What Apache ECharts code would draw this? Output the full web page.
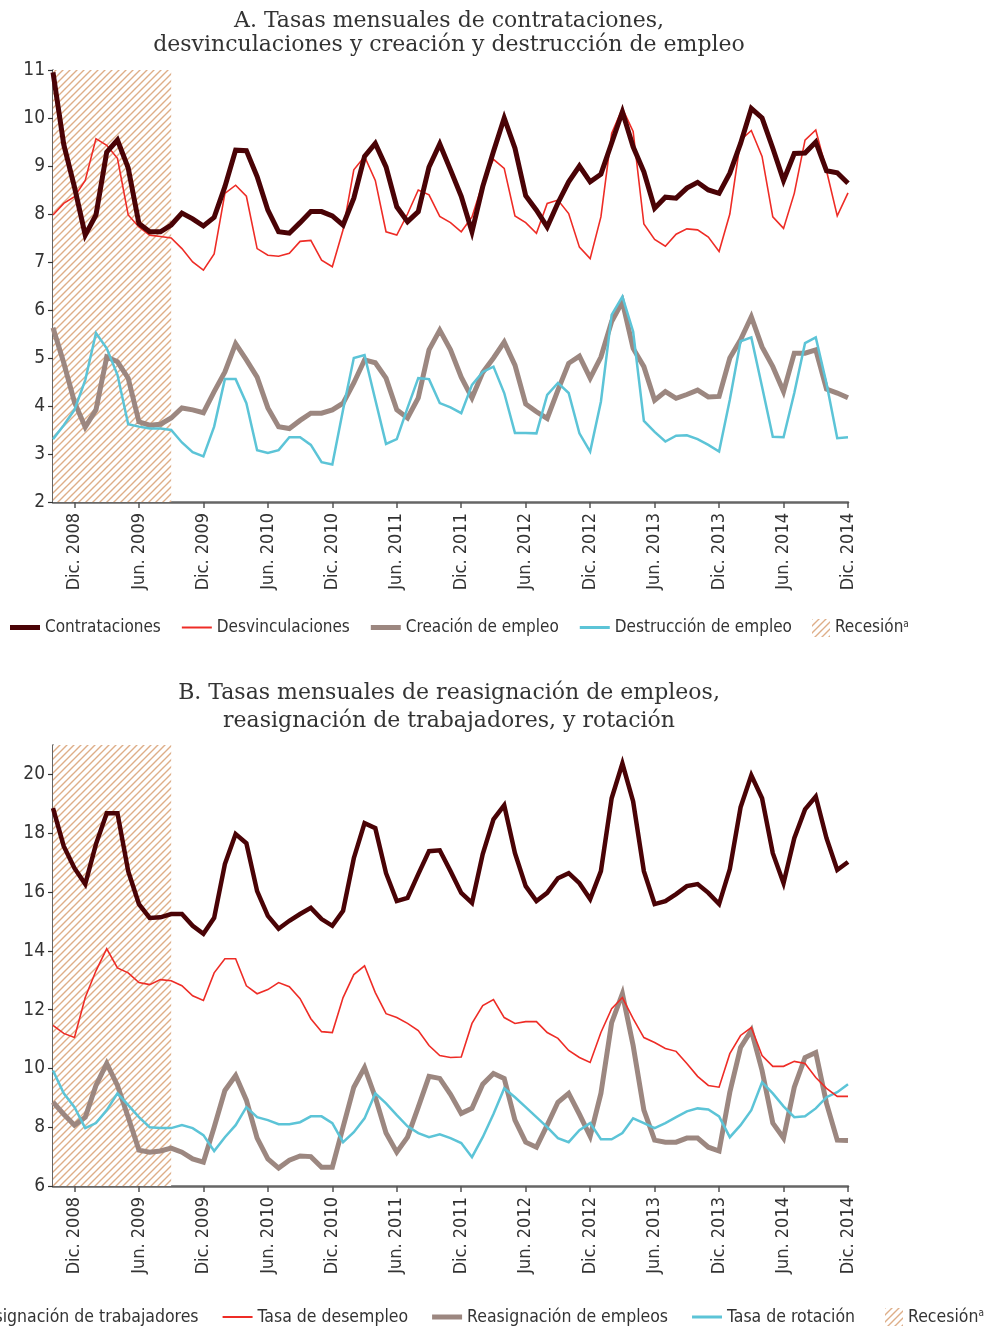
<!DOCTYPE html>
<html>
<head>
<meta charset="utf-8">
<script src="https://cdn.jsdelivr.net/npm/echarts@6/dist/echarts.min.js"></script>
<style>
  html, body { margin: 0; padding: 0; background: #ffffff; }
  #chart { width: 991px; height: 1328px; }
</style>
</head>
<body>
<div id="chart"></div>
<script>
// Months Oct. 2008 – Dic. 2014
const MES = ['Ene.', 'Feb.', 'Mar.', 'Abr.', 'May.', 'Jun.', 'Jul.', 'Ago.', 'Sep.', 'Oct.', 'Nov.', 'Dic.'];
const meses = [];
for (let k = 0; k < 75; k++) {
  meses.push(MES[(9 + k) % 12] + ' ' + (2008 + Math.floor((9 + k) / 12)));
}
const recesion = ['Oct. 2008', 'Sep. 2009'];

// Panel A
const contrataciones = [
  10.95, 9.45, 8.56, 7.56, 7.98, 9.29, 9.54, 8.96, 7.8, 7.63, 7.63, 7.77,
  8.02, 7.9, 7.75, 7.93, 8.57, 9.33, 9.32, 8.78, 8.08, 7.63, 7.6, 7.82,
  8.05, 8.05, 7.96, 7.77, 8.33, 9.2, 9.47, 8.98, 8.15, 7.84, 8.05, 8.98,
  9.46, 8.92, 8.37, 7.63, 8.57, 9.3, 10.0, 9.37, 8.38, 8.08, 7.73, 8.23,
  8.67, 9.0, 8.67, 8.83, 9.48, 10.13, 9.4, 8.88, 8.12, 8.35, 8.33, 8.54,
  8.66, 8.5, 8.43, 8.85, 9.47, 10.2, 10.0, 9.37, 8.7, 9.26, 9.27, 9.5,
  8.9, 8.86, 8.64
];
const desvinculaciones = [
  7.98, 8.22, 8.36, 8.7, 9.57, 9.43, 9.16, 7.98, 7.73, 7.56, 7.53, 7.5,
  7.28, 7.0, 6.83, 7.17, 8.43, 8.6, 8.37, 7.28, 7.14, 7.12, 7.18, 7.43,
  7.45, 7.04, 6.9, 7.67, 8.92, 9.2, 8.7, 7.63, 7.56, 8.0, 8.5, 8.4,
  7.95, 7.82, 7.63, 7.94, 8.64, 9.14, 8.95, 7.96, 7.82, 7.6, 8.22, 8.29,
  8.01, 7.31, 7.07, 7.94, 9.68, 10.2, 9.72, 7.79, 7.47, 7.33, 7.58, 7.69,
  7.67, 7.52, 7.22, 8.0, 9.54, 9.74, 9.2, 7.94, 7.7, 8.43, 9.54, 9.75,
  8.9, 7.96, 8.44
];
const creacion = [
  5.63, 4.9, 4.08, 3.56, 3.92, 5.02, 4.92, 4.58, 3.67, 3.6, 3.62, 3.75,
  3.96, 3.92, 3.86, 4.3, 4.71, 5.3, 4.96, 4.6, 3.96, 3.57, 3.53, 3.7,
  3.85, 3.85, 3.92, 4.06, 4.48, 4.96, 4.9, 4.58, 3.92, 3.75, 4.17, 5.17,
  5.58, 5.17, 4.6, 4.17, 4.7, 5.0, 5.33, 4.85, 4.04, 3.88, 3.74, 4.33,
  4.89, 5.04, 4.58, 5.02, 5.76, 6.17, 5.2, 4.82, 4.12, 4.3, 4.16, 4.24,
  4.33, 4.19, 4.2, 5.0, 5.38, 5.86, 5.23, 4.82, 4.3, 5.1, 5.1, 5.17,
  4.35, 4.27, 4.17
];
const destruccion = [
  3.31, 3.6, 3.92, 4.54, 5.52, 5.2, 4.65, 3.62, 3.57, 3.53, 3.53, 3.5,
  3.24, 3.04, 2.95, 3.57, 4.56, 4.56, 4.06, 3.08, 3.02, 3.08, 3.35, 3.35,
  3.19, 2.83, 2.78, 3.92, 5.0, 5.06, 4.13, 3.21, 3.31, 3.96, 4.58, 4.56,
  4.06, 3.97, 3.85, 4.44, 4.71, 4.82, 4.27, 3.44, 3.44, 3.43, 4.23, 4.48,
  4.27, 3.43, 3.05, 4.09, 5.9, 6.28, 5.55, 3.69, 3.46, 3.26, 3.38, 3.39,
  3.31, 3.19, 3.05, 4.13, 5.35, 5.43, 4.4, 3.36, 3.35, 4.27, 5.31, 5.43,
  4.47, 3.33, 3.35
];

// Panel B
const reasigTrabajadores = [
  18.85, 17.56, 16.81, 16.27, 17.63, 18.68, 18.68, 16.71, 15.59, 15.12, 15.14, 15.25,
  15.25, 14.85, 14.58, 15.12, 16.95, 17.97, 17.66, 16.03, 15.19, 14.75, 15.02, 15.25,
  15.46, 15.08, 14.85, 15.36, 17.15, 18.34, 18.17, 16.64, 15.69, 15.8, 16.61, 17.39,
  17.42, 16.71, 15.97, 15.63, 17.29, 18.47, 18.95, 17.32, 16.2, 15.69, 15.97, 16.47,
  16.64, 16.3, 15.76, 16.71, 19.19, 20.37, 19.08, 16.71, 15.59, 15.69, 15.93, 16.2,
  16.27, 15.97, 15.59, 16.78, 18.88, 19.97, 19.19, 17.32, 16.3, 17.83, 18.81, 19.25,
  17.83, 16.75, 17.02
];
const desempleo = [
  11.46, 11.19, 11.05, 12.41, 13.32, 14.07, 13.42, 13.25, 12.92, 12.85, 13.02, 12.98,
  12.81, 12.47, 12.31, 13.25, 13.73, 13.73, 12.81, 12.54, 12.68, 12.92, 12.78, 12.37,
  11.69, 11.25, 11.22, 12.41, 13.19, 13.49, 12.58, 11.86, 11.73, 11.53, 11.29, 10.78,
  10.44, 10.37, 10.39, 11.53, 12.14, 12.34, 11.73, 11.53, 11.59, 11.59, 11.22, 11.02,
  10.61, 10.37, 10.2, 11.22, 12.03, 12.41, 11.69, 11.05, 10.88, 10.68, 10.58, 10.17,
  9.73, 9.42, 9.36, 10.5, 11.12, 11.39, 10.44, 10.07, 10.07, 10.24, 10.17, 9.69,
  9.32, 9.05, 9.05
];
const reasigEmpleos = [
  8.85, 8.44, 8.07, 8.34, 9.42, 10.17, 9.42, 8.34, 7.22, 7.15, 7.19, 7.29,
  7.15, 6.92, 6.81, 8.0, 9.25, 9.76, 8.92, 7.63, 6.92, 6.61, 6.88, 7.02,
  7.0, 6.64, 6.64, 8.0, 9.36, 10.03, 9.02, 7.8, 7.15, 7.66, 8.68, 9.73,
  9.66, 9.12, 8.47, 8.64, 9.46, 9.83, 9.66, 8.24, 7.49, 7.32, 8.07, 8.85,
  9.15, 8.44, 7.69, 9.15, 11.56, 12.54, 10.78, 8.58, 7.56, 7.49, 7.49, 7.63,
  7.63, 7.32, 7.19, 9.19, 10.71, 11.29, 9.93, 8.14, 7.63, 9.36, 10.37, 10.54,
  8.81, 7.56, 7.55
];
const rotacion = [
  9.93, 9.15, 8.68, 7.97, 8.14, 8.58, 9.15, 8.75, 8.34, 8.0, 7.97, 7.97,
  8.07, 7.97, 7.73, 7.19, 7.66, 8.07, 8.68, 8.34, 8.24, 8.1, 8.1, 8.17,
  8.37, 8.37, 8.14, 7.49, 7.83, 8.3, 9.15, 8.81, 8.41, 8.03, 7.8, 7.66,
  7.76, 7.63, 7.46, 6.98, 7.66, 8.45, 9.32, 9.02, 8.68, 8.34, 8.0, 7.63,
  7.49, 7.9, 8.14, 7.59, 7.59, 7.8, 8.3, 8.14, 7.97, 8.14, 8.34, 8.54,
  8.64, 8.6, 8.37, 7.66, 8.07, 8.58, 9.53, 9.15, 8.71, 8.34, 8.37, 8.64,
  9.02, 9.19, 9.46
];

const ticksA = [2, 3, 4, 5, 6, 7, 8, 9, 10, 11];
const ticksB = [6, 8, 10, 12, 14, 16, 18, 20];

// Colours and fonts
const C_DARK = '#4a0306';
const C_RED = '#ee2c26';
const C_GREY = '#9c8780';
const C_CYAN = '#5cc4d7';
const C_HATCH = '#deae88';
const NARROW = "'DejaVu Sans Condensed', 'Liberation Sans Narrow', sans-serif";
const SERIF = "'DejaVu Serif', serif";

// Diagonal hatch used for the recession band
function hatchPattern() {
  const s = 7;
  const c = document.createElement('canvas');
  c.width = s; c.height = s;
  const ctx = c.getContext('2d');
  ctx.fillStyle = '#ffffff';
  ctx.fillRect(0, 0, s, s);
  ctx.strokeStyle = C_HATCH;
  ctx.lineWidth = 1.4;
  ctx.beginPath();
  ctx.moveTo(-1, s + 1); ctx.lineTo(s + 1, -1);
  ctx.moveTo(-1, 1); ctx.lineTo(1, -1);
  ctx.moveTo(s - 1, s + 1); ctx.lineTo(s + 1, s - 1);
  ctx.stroke();
  return { image: c, repeat: 'repeat' };
}
const hatch = hatchPattern();

const showTick = (idx) => idx >= 2 && (idx - 2) % 6 === 0;

function xAxisFor(gridIndex) {
  return {
    type: 'category',
    gridIndex: gridIndex,
    data: meses,
    boundaryGap: false,
    axisLine: { show: true, lineStyle: { color: '#666', width: 2.5 } },
    axisTick: { show: true, interval: (i) => showTick(i), length: 6, lineStyle: { color: '#555', width: 1.5 } },
    axisLabel: {
      interval: (i) => showTick(i),
      rotate: 90,
      margin: 11,
      fontFamily: NARROW,
      fontSize: 18,
      color: '#333'
    },
    splitLine: { show: false }
  };
}

function yAxisFor(gridIndex, min, max, ticks) {
  return {
    type: 'value',
    gridIndex: gridIndex,
    min: min,
    max: max,
    interval: ticks[1] - ticks[0],
    axisLine: { show: true, lineStyle: { color: '#333', width: 1.5 } },
    axisTick: { show: true, length: 5, customValues: ticks, lineStyle: { color: '#333', width: 1.2 } },
    axisLabel: { customValues: ticks, margin: 8, fontFamily: NARROW, fontSize: 19, color: '#333' },
    splitLine: { show: false }
  };
}

function lineSeries(name, data, color, width, idx, z) {
  return {
    name: name,
    type: 'line',
    xAxisIndex: idx,
    yAxisIndex: idx,
    data: data,
    symbol: 'none',
    z: z,
    color: color,
    lineStyle: { color: color, width: width, join: 'miter', cap: 'butt' }
  };
}

function recessionSeries(idx) {
  return {
    name: 'Recesión',
    type: 'line',
    xAxisIndex: idx,
    yAxisIndex: idx,
    data: [],
    symbol: 'none',
    z: 1,
    itemStyle: { color: hatch },
    lineStyle: { width: 0 },
    markArea: {
      silent: true,
      itemStyle: { color: hatch, opacity: 1 },
      label: { show: false },
      data: [[{ xAxis: recesion[0] }, { xAxis: recesion[1] }]]
    }
  };
}

const ICON_THICK = 'path://M0,0H30V5H0Z';
const ICON_MID = 'path://M0,0H30V3H0Z';
const ICON_THIN = 'path://M0,0H30V2H0Z';

function legendFor(left, top, gap, fontSize, iconW, items) {
  return {
    show: true,
    left: left,
    top: top,
    orient: 'horizontal',
    itemWidth: iconW,
    itemHeight: 18,
    itemGap: gap,
    selectedMode: false,
    padding: 0,
    data: items,
    formatter: (name) => name === 'Recesión' ? 'Recesión{sup|a}' : name,
    textStyle: {
      fontFamily: NARROW,
      fontSize: fontSize,
      color: '#333',
      rich: {
        sup: { fontFamily: NARROW, fontSize: 10, color: '#333', verticalAlign: 'top', lineHeight: 11 }
      }
    }
  };
}

const recessionItem = [{ name: 'Recesión', icon: 'rect', itemStyle: { color: hatch } }];

const chart = echarts.init(document.getElementById('chart'), null, { renderer: 'canvas' });

chart.setOption({
  animation: false,
  backgroundColor: '#ffffff',
  title: [
    {
      text: 'A. Tasas mensuales de contrataciones,\ndesvinculaciones y creación y destrucción de empleo',
      left: 449, top: 9, padding: 0, textAlign: 'center',
      textStyle: { fontFamily: SERIF, fontSize: 22, fontWeight: 'normal', color: '#333', lineHeight: 24 }
    },
    {
      text: 'B. Tasas mensuales de reasignación de empleos,\nreasignación de trabajadores, y rotación',
      left: 449, top: 679, padding: 0, textAlign: 'center',
      textStyle: { fontFamily: SERIF, fontSize: 22, fontWeight: 'normal', color: '#333', lineHeight: 28 }
    }
  ],
  grid: [
    { left: 53, top: 70, width: 795, height: 432 },
    { left: 53, top: 745, width: 795, height: 441 }
  ],
  xAxis: [xAxisFor(0), xAxisFor(1)],
  yAxis: [yAxisFor(0, 2, 11, ticksA), yAxisFor(1, 6, 21, ticksB)],
  legend: [
    legendFor(10, 619, 21, 17, 30, [
      { name: 'Contrataciones', icon: ICON_THICK },
      { name: 'Desvinculaciones', icon: ICON_THIN },
      { name: 'Creación de empleo', icon: ICON_THICK },
      { name: 'Destrucción de empleo', icon: ICON_MID }
    ]),
    legendFor(812, 619, 0, 17, 18, recessionItem),
    legendFor(-70, 1308, 24, 17.5, 30, [
      { name: 'Reasignación de trabajadores', icon: ICON_THICK },
      { name: 'Tasa de desempleo', icon: ICON_THIN },
      { name: 'Reasignación de empleos', icon: ICON_THICK },
      { name: 'Tasa de rotación', icon: ICON_MID }
    ]),
    legendFor(885, 1308, 0, 17.5, 18, recessionItem)
  ],
  series: [
    recessionSeries(0),
    lineSeries('Creación de empleo', creacion, C_GREY, 5, 0, 3),
    lineSeries('Destrucción de empleo', destruccion, C_CYAN, 2.5, 0, 4),
    lineSeries('Desvinculaciones', desvinculaciones, C_RED, 1.6, 0, 5),
    lineSeries('Contrataciones', contrataciones, C_DARK, 5, 0, 6),

    recessionSeries(1),
    lineSeries('Reasignación de empleos', reasigEmpleos, C_GREY, 5, 1, 3),
    lineSeries('Tasa de rotación', rotacion, C_CYAN, 2.5, 1, 4),
    lineSeries('Tasa de desempleo', desempleo, C_RED, 1.6, 1, 5),
    lineSeries('Reasignación de trabajadores', reasigTrabajadores, C_DARK, 4.5, 1, 6)
  ]
});
</script>
</body>
</html>
